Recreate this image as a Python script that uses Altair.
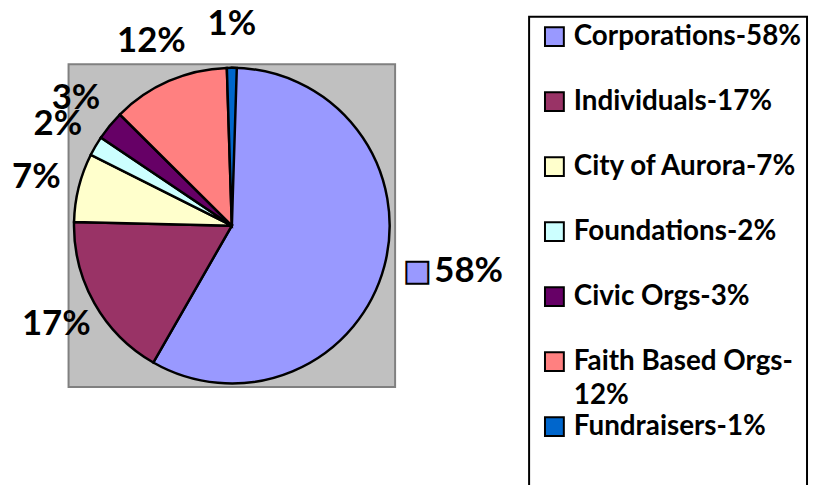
import altair as alt
import pandas as pd

categories = ["Corporations", "Individuals", "City of Aurora", "Foundations",
              "Civic Orgs", "Faith Based Orgs", "Fundraisers"]
shares = [58, 17, 7, 2, 3, 12, 1]
colors = ["#9999FF", "#993366", "#FFFFCC", "#CCFFFF", "#660066", "#FF8080", "#0066CC"]
legend_line1 = ["Corporations-58%", "Individuals-17%", "City of Aurora-7%", "Foundations-2%",
                "Civic Orgs-3%", "Faith Based Orgs-", "Fundraisers-1%"]
legend_line2 = ["", "", "", "", "", "12%", ""]

df = pd.DataFrame({
    "cat": categories,
    "pct": shares,
    "idx": list(range(len(categories))),
    "l1": legend_line1,
    "l2": legend_line2,
})
df["label"] = df["pct"].astype(str) + "%"

base = alt.Chart(df).transform_window(
    cum="sum(pct)", sort=[alt.SortField("idx")], frame=[None, 0]
).transform_calculate(
    start="datum.cum - datum.pct",
    mid="datum.cum - datum.pct / 2",
)

color = alt.Color("cat:N", scale=alt.Scale(domain=categories, range=colors), legend=None)
theta_mid = alt.Theta("mid:Q", stack=None)

FONT = "Lato"
WEIGHT = "bold"

pie = base.mark_arc(outerRadius=159, stroke="black", strokeWidth=2.5).encode(
    theta=alt.Theta("start:Q", stack=None),
    theta2="cum:Q",
    color=color,
)

labels = base.transform_filter("datum.idx > 0").mark_text(
    radius=203, font=FONT, fontWeight=WEIGHT, fontSize=35,
    align="center", baseline="middle", color="black",
).encode(theta=theta_mid, text="label:N")

key = base.transform_filter("datum.idx == 0").mark_text(
    radius=179, font="DejaVu Sans", fontSize=29, align="left", baseline="middle",
    stroke="black", strokeWidth=2,
).encode(theta=theta_mid, text=alt.value("\u25A0"), color=color)

corp_label = base.transform_filter("datum.idx == 0").mark_text(
    radius=179, dx=31, font=FONT, fontWeight=WEIGHT, fontSize=35,
    align="left", baseline="middle", color="black",
).encode(theta=theta_mid, text="label:N")

box_df = pd.DataFrame({"k": [0]})
leg_box = alt.Chart(box_df).mark_rect(
    fillOpacity=0, stroke="black", strokeWidth=2,
).encode(x=alt.value(464), x2=alt.value(744), y=alt.value(-48), y2=alt.value(440))

yleg = alt.Y("cat:N", sort=categories, axis=None,
             scale=alt.Scale(type="point", domain=categories, range=[-28, 365], padding=0))

sym = base.mark_square(size=361, stroke="black", strokeWidth=2, opacity=1, filled=True).encode(
    x=alt.value(489.5), y=yleg, color=color)

leg_t1 = base.mark_text(
    align="left", baseline="middle", font=FONT, fontWeight=WEIGHT, fontSize=28, color="black",
).encode(x=alt.value(509), y=yleg, text="l1:N")

leg_t2 = base.transform_filter("datum.l2 != ''").mark_text(
    align="left", baseline="middle", font=FONT, fontWeight=WEIGHT, fontSize=28, color="black",
    dy=35,
).encode(x=alt.value(509), y=yleg, text="l2:N")

chart = alt.layer(pie, labels, key, corp_label, leg_box, sym, leg_t1, leg_t2).properties(
    width=329, height=325,
    padding={"left": 61, "top": 55, "right": 418, "bottom": 97},
    autosize=alt.AutoSizeParams(type="none"),
).configure_view(fill="#C0C0C0", stroke="#808080", strokeWidth=2)

chart.save("out.html", embed_options={"renderer": "svg", "actions": False})
